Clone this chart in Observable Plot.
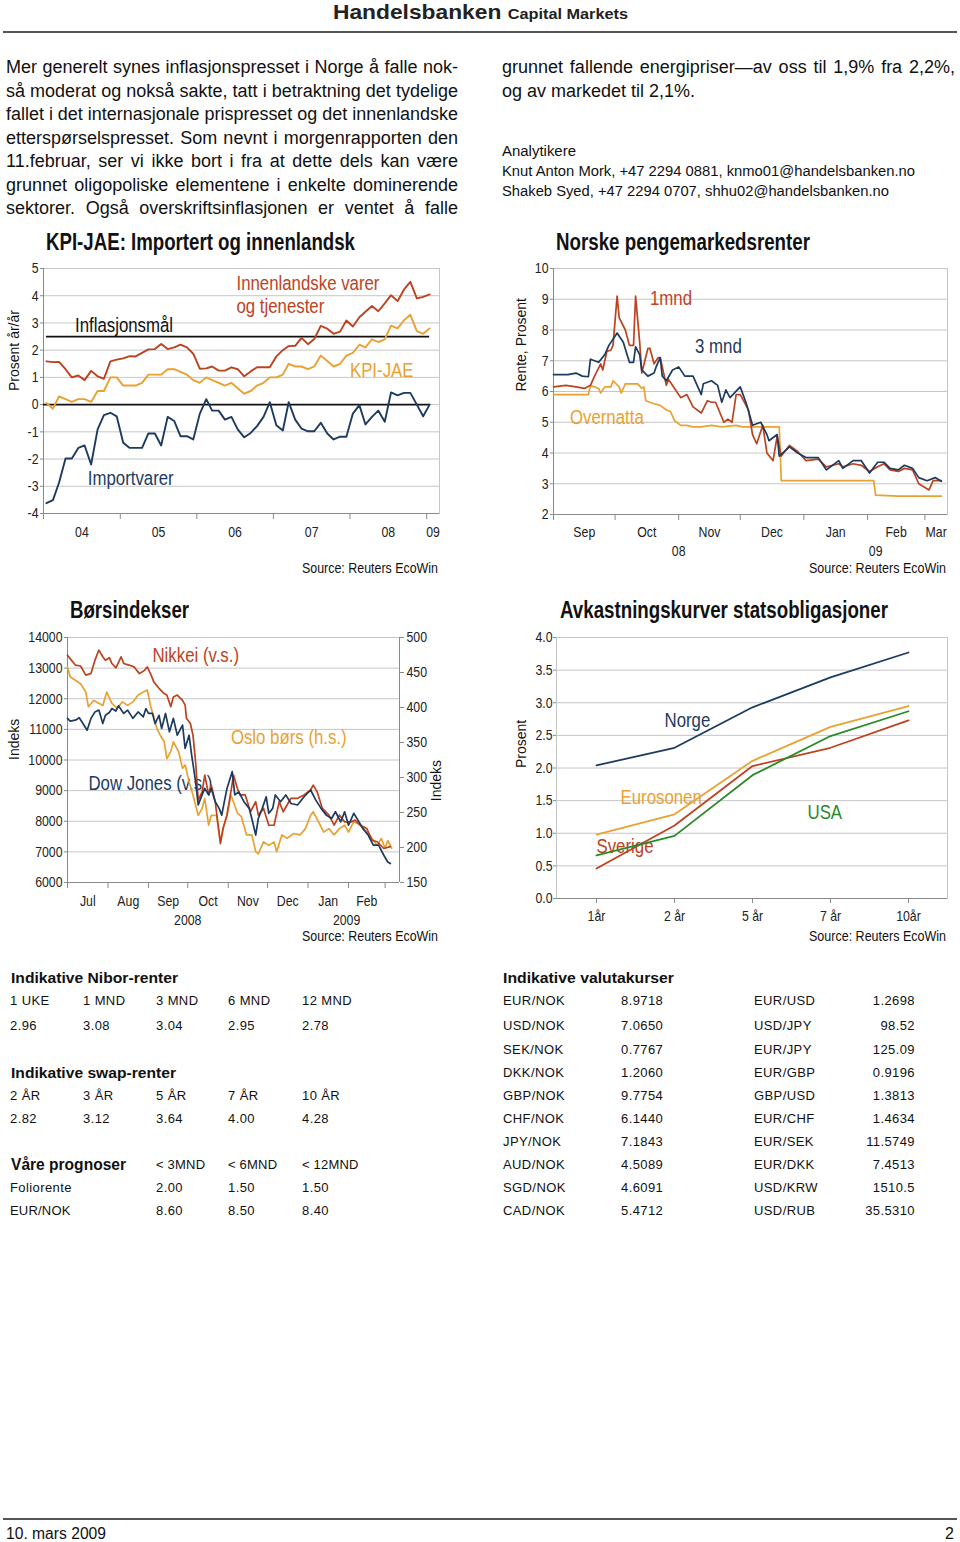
<!DOCTYPE html>
<html><head><meta charset="utf-8">
<script src="https://cdn.jsdelivr.net/npm/d3@7"></script>
<script src="https://cdn.jsdelivr.net/npm/@observablehq/plot@0.6"></script>
<style>
body{margin:0;background:#fff;}
#page{position:relative;width:960px;height:1542px;overflow:hidden;background:#fff;color:#111;font-family:"Liberation Sans",Arial,Helvetica,sans-serif;}
.t{position:absolute;white-space:nowrap;}
.rule{position:absolute;background:#555;}
svg{position:absolute;overflow:visible;}
</style>
</head><body><div id="page"></div>
<script>
// ---------------- DATA ----------------
// KPI-JAE (monthly, Jan 2004 - Jan 2009), % y/y
const kpiStartYear = 2004;
const innenlandske = [1.59,1.56,1.57,1.3,1.0,1.07,0.9,1.24,1.04,0.95,1.59,1.65,
 1.7,1.78,1.77,1.9,2.03,2.04,2.23,2.04,2.1,2.2,2.1,1.87,
 1.32,1.33,1.4,1.25,1.25,1.37,1.3,1.04,1.22,1.37,1.37,1.37,
 1.77,2.0,2.15,2.16,2.45,2.22,2.41,2.89,2.79,2.6,2.68,3.09,
 2.87,3.21,3.41,3.62,3.43,3.72,4.02,3.8,4.23,4.51,3.9,3.96,4.05];
const kpiJae = [0.06,-0.15,0.3,0.2,0.1,0.2,0.2,0.1,0.5,0.5,1.0,1.0,
 0.7,0.7,0.7,0.8,1.1,1.1,1.1,1.3,1.3,1.2,1.1,0.9,
 0.8,1.0,0.9,0.8,0.7,0.8,0.6,0.4,0.5,0.7,0.8,1.0,
 1.0,1.1,1.5,1.4,1.4,1.3,1.4,1.8,1.6,1.4,1.5,1.8,
 1.9,2.2,2.1,2.4,2.3,2.4,2.9,2.8,3.1,3.3,2.7,2.6,2.8];
const importvarer = [-3.62,-3.51,-2.87,-1.98,-1.98,-1.59,-1.5,-2.2,-0.91,-0.39,-0.3,-0.43,
 -1.4,-1.59,-1.59,-1.59,-1.06,-1.06,-1.5,-0.45,-0.6,-1.16,-1.16,-1.28,
 -0.34,0.2,-0.22,-0.22,-0.55,-0.45,-0.91,-1.2,-1.04,-0.79,-0.45,0.09,
 -0.76,-0.95,0.09,-0.55,-0.88,-0.98,-0.98,-0.67,-1.06,-1.28,-1.18,-1.18,
 -0.33,-0.02,-0.73,-0.45,-0.22,-0.63,0.45,0.34,0.43,0.43,0,-0.43,0];
const inflasjonsmaal = 2.5;
const kpiYears = [2004,2005,2006,2007,2008,2009];
const kpiYearLabels = ["04","05","06","07","08","09"];
const kpiYTicks = [-4,-3,-2,-1,0,1,2,3,4,5];

// Norske pengemarkedsrenter
const rate1m = [["2008-09-01",6.15],["2008-09-07",6.2],["2008-09-12",6.15],["2008-09-16",6.1],["2008-09-19",6.2],["2008-09-21",6.5],["2008-09-24",6.9],["2008-09-25",6.7],["2008-09-27",7.3],["2008-09-29",7.35],["2008-09-30",7.5],["2008-10-02",9.1],["2008-10-03",8.4],["2008-10-06",8.0],["2008-10-08",7.5],["2008-10-10",7.5],["2008-10-11",9.1],["2008-10-13",7.6],["2008-10-14",6.6],["2008-10-17",7.4],["2008-10-18",7.4],["2008-10-20",6.9],["2008-10-22",7.1],["2008-10-23",7.1],["2008-10-26",6.2],["2008-10-27",6.4],["2008-10-30",6.1],["2008-11-02",5.8],["2008-11-05",5.9],["2008-11-08",5.5],["2008-11-12",5.3],["2008-11-15",5.7],["2008-11-17",5.65],["2008-11-19",5.65],["2008-11-23",5.0],["2008-11-25",5.1],["2008-11-27",5.0],["2008-11-29",5.9],["2008-12-01",5.9],["2008-12-05",5.4],["2008-12-07",4.6],["2008-12-09",4.3],["2008-12-12",4.9],["2008-12-14",4.0],["2008-12-17",3.75],["2008-12-19",4.55],["2008-12-21",3.9],["2008-12-25",4.25],["2008-12-29",4.05],["2009-01-02",3.75],["2009-01-08",3.8],["2009-01-12",3.55],["2009-01-18",3.65],["2009-01-20",3.55],["2009-01-25",3.65],["2009-01-29",3.6],["2009-02-02",3.4],["2009-02-06",3.55],["2009-02-09",3.65],["2009-02-12",3.45],["2009-02-16",3.4],["2009-02-19",3.5],["2009-02-23",3.45],["2009-02-26",3.0],["2009-03-03",2.8],["2009-03-05",3.1],["2009-03-09",3.1]];
const rate3m = [["2008-09-01",6.55],["2008-09-08",6.55],["2008-09-12",6.6],["2008-09-15",6.5],["2008-09-18",6.48],["2008-09-19",7.05],["2008-09-23",6.95],["2008-09-26",7.2],["2008-09-28",7.5],["2008-10-02",7.9],["2008-10-05",7.6],["2008-10-08",6.95],["2008-10-10",6.95],["2008-10-11",7.45],["2008-10-13",7.2],["2008-10-14",6.7],["2008-10-17",6.5],["2008-10-20",6.6],["2008-10-21",6.8],["2008-10-23",7.1],["2008-10-24",6.5],["2008-10-26",6.35],["2008-10-29",6.7],["2008-11-01",6.8],["2008-11-04",6.5],["2008-11-08",6.5],["2008-11-12",5.9],["2008-11-13",6.25],["2008-11-17",6.35],["2008-11-20",6.2],["2008-11-22",5.65],["2008-11-24",6.05],["2008-11-26",5.8],["2008-12-01",6.15],["2008-12-04",5.6],["2008-12-07",4.9],["2008-12-11",5.0],["2008-12-14",4.6],["2008-12-15",4.4],["2008-12-19",4.6],["2008-12-20",3.9],["2008-12-25",4.2],["2008-12-29",4.0],["2009-01-02",3.85],["2009-01-08",3.85],["2009-01-12",3.45],["2009-01-18",3.75],["2009-01-20",3.5],["2009-01-25",3.75],["2009-01-29",3.75],["2009-02-02",3.35],["2009-02-06",3.7],["2009-02-09",3.7],["2009-02-12",3.5],["2009-02-16",3.45],["2009-02-19",3.6],["2009-02-23",3.5],["2009-02-26",3.2],["2009-03-02",3.1],["2009-03-06",3.2],["2009-03-09",3.08]];
const rateOvernight = [["2008-09-01",5.9],["2008-09-18",5.9],["2008-09-19",6.2],["2008-09-23",6.1],["2008-09-24",5.95],["2008-09-26",6.15],["2008-09-29",6.15],["2008-09-30",6.35],["2008-10-03",6.15],["2008-10-04",5.95],["2008-10-06",6.25],["2008-10-12",6.25],["2008-10-14",6.1],["2008-10-15",6.15],["2008-10-16",5.7],["2008-10-20",5.6],["2008-10-23",5.55],["2008-10-26",5.4],["2008-10-28",5.35],["2008-10-30",5.05],["2008-11-02",4.9],["2008-11-05",4.9],["2008-11-08",4.85],["2008-11-12",4.85],["2008-11-17",4.9],["2008-11-22",4.85],["2008-11-29",4.9],["2008-12-02",4.85],["2008-12-20",4.85],["2008-12-21",3.1],["2009-02-04",3.1],["2009-02-05",2.63],["2009-02-16",2.6],["2009-03-09",2.6]];
const rateMonthStarts = ["2008-09-01","2008-10-01","2008-11-01","2008-12-01","2009-01-01","2009-02-01","2009-03-01"];
const rateMonthNames = ["Sep","Oct","Nov","Dec","Jan","Feb","Mar"];
const rateYTicks = [2,3,4,5,6,7,8,9,10];

// Børsindekser
const nikkei = [["2008-07-01",13420],["2008-07-03",13310],["2008-07-07",13100],["2008-07-11",13070],["2008-07-15",12770],["2008-07-19",12830],["2008-07-22",13260],["2008-07-25",13590],["2008-07-28",13370],["2008-07-30",13260],["2008-08-02",13340],["2008-08-04",13150],["2008-08-07",13010],["2008-08-11",13370],["2008-08-13",13150],["2008-08-17",13100],["2008-08-21",13040],["2008-08-25",12820],["2008-08-29",12930],["2008-08-31",13040],["2008-09-03",12770],["2008-09-05",12550],["2008-09-09",12340],["2008-09-13",12170],["2008-09-15",12120],["2008-09-18",11740],["2008-09-20",12060],["2008-09-23",12120],["2008-09-27",11950],["2008-09-29",11790],["2008-09-30",11360],["2008-10-03",11190],["2008-10-05",10810],["2008-10-07",9940],["2008-10-09",8690],["2008-10-12",8960],["2008-10-14",9510],["2008-10-17",8860],["2008-10-19",9180],["2008-10-22",8640],["2008-10-26",7270],["2008-10-28",7760],["2008-10-31",8200],["2008-11-03",8960],["2008-11-05",9510],["2008-11-08",9070],["2008-11-10",8860],["2008-11-14",8860],["2008-11-18",8310],["2008-11-22",8640],["2008-11-24",8200],["2008-11-28",8420],["2008-12-02",7870],["2008-12-06",7870],["2008-12-10",8640],["2008-12-13",8310],["2008-12-19",8750],["2008-12-24",8750],["2008-12-29",8860],["2009-01-03",9020],["2009-01-05",9180],["2009-01-08",8960],["2009-01-12",8420],["2009-01-17",8200],["2009-01-21",7870],["2009-01-25",8200],["2009-01-29",7980],["2009-02-03",7980],["2009-02-06",8040],["2009-02-10",7870],["2009-02-15",7760],["2009-02-19",7380],["2009-02-23",7330],["2009-02-28",7110],["2009-03-05",7170]];
const dowJones = [["2008-07-01",11360],["2008-07-03",11270],["2008-07-07",11300],["2008-07-10",11380],["2008-07-12",11250],["2008-07-16",10970],["2008-07-19",11360],["2008-07-22",11570],["2008-07-25",11630],["2008-07-28",11190],["2008-07-30",11460],["2008-08-02",11550],["2008-08-04",11680],["2008-08-07",11600],["2008-08-09",11770],["2008-08-13",11520],["2008-08-16",11630],["2008-08-20",11360],["2008-08-24",11570],["2008-08-28",11410],["2008-08-30",11680],["2008-09-01",11520],["2008-09-04",11520],["2008-09-06",11190],["2008-09-09",11460],["2008-09-11",11030],["2008-09-14",11520],["2008-09-17",10920],["2008-09-20",11360],["2008-09-23",10810],["2008-09-27",11140],["2008-09-29",10380],["2008-10-02",10810],["2008-10-04",10160],["2008-10-07",9290],["2008-10-09",8530],["2008-10-12",8860],["2008-10-14",9070],["2008-10-17",8860],["2008-10-19",9070],["2008-10-22",8640],["2008-10-25",8420],["2008-10-27",8200],["2008-10-29",8640],["2008-10-31",9070],["2008-11-04",9620],["2008-11-06",8860],["2008-11-09",8960],["2008-11-13",8640],["2008-11-17",8420],["2008-11-19",8090],["2008-11-22",7550],["2008-11-24",8090],["2008-11-27",8420],["2008-11-30",8800],["2008-12-02",8260],["2008-12-05",8420],["2008-12-07",8860],["2008-12-11",8640],["2008-12-15",8860],["2008-12-19",8580],["2008-12-24",8530],["2008-12-29",8800],["2009-01-03",9020],["2009-01-07",8690],["2009-01-11",8420],["2009-01-15",8200],["2009-01-19",8090],["2009-01-22",8310],["2009-01-26",7980],["2009-01-29",8310],["2009-02-01",7870],["2009-02-05",8260],["2009-02-09",7980],["2009-02-12",7760],["2009-02-16",7550],["2009-02-20",7220],["2009-02-24",7220],["2009-02-28",6890],["2009-03-03",6670],["2009-03-05",6620]];
const osloBors = [["2008-07-01",458],["2008-07-03",444],["2008-07-07",439],["2008-07-11",434],["2008-07-15",422],["2008-07-17",401],["2008-07-21",410],["2008-07-25",406],["2008-07-28",403],["2008-07-31",422],["2008-08-04",406],["2008-08-08",399],["2008-08-12",408],["2008-08-16",403],["2008-08-20",408],["2008-08-24",418],["2008-08-28",422],["2008-08-31",425],["2008-09-03",399],["2008-09-05",387],["2008-09-07",372],["2008-09-10",360],["2008-09-13",351],["2008-09-15",327],["2008-09-18",337],["2008-09-20",351],["2008-09-24",337],["2008-09-27",313],["2008-09-29",318],["2008-10-02",294],["2008-10-05",275],["2008-10-09",246],["2008-10-12",256],["2008-10-14",270],["2008-10-17",232],["2008-10-19",246],["2008-10-23",246],["2008-10-26",208],["2008-10-28",227],["2008-10-31",246],["2008-11-03",275],["2008-11-05",265],["2008-11-08",249],["2008-11-11",244],["2008-11-15",218],["2008-11-19",218],["2008-11-22",194],["2008-11-24",191],["2008-11-28",208],["2008-12-02",203],["2008-12-06",208],["2008-12-08",194],["2008-12-12",218],["2008-12-16",213],["2008-12-21",220],["2008-12-26",218],["2008-12-30",227],["2009-01-03",246],["2009-01-05",251],["2009-01-09",237],["2009-01-13",222],["2009-01-17",227],["2009-01-21",218],["2009-01-25",227],["2009-01-29",232],["2009-02-01",222],["2009-02-05",237],["2009-02-10",232],["2009-02-15",222],["2009-02-19",213],["2009-02-23",203],["2009-02-26",213],["2009-03-01",199],["2009-03-03",210],["2009-03-06",199]];
const borsMonthStarts = ["2008-07-01","2008-08-01","2008-09-01","2008-10-01","2008-11-01","2008-12-01","2009-01-01","2009-02-01","2009-03-01"];
const borsMonthNames = ["Jul","Aug","Sep","Oct","Nov","Dec","Jan","Feb"];
const borsLeftTicks = [6000,7000,8000,9000,10000,11000,12000,13000,14000];
const borsRightTicks = [150,200,250,300,350,400,450,500];

// Avkastningskurver statsobligasjoner
const maturities = ["1år","2 år","5 år","7 år","10år"];
const yieldNorge = [2.04,2.31,2.93,3.39,3.77];
const yieldEurosonen = [0.98,1.29,2.11,2.63,2.95];
const yieldSverige = [0.46,1.12,2.03,2.31,2.73];
const yieldUSA = [0.66,0.96,1.89,2.49,2.87];
const yieldTicks = [0,0.5,1,1.5,2,2.5,3,3.5,4];

// Tables
const niborTenors = ["1 UKE","1 MND","3 MND","6 MND","12 MND"];
const niborRates = ["2.96","3.08","3.04","2.95","2.78"];
const swapTenors = ["2 ÅR","3 ÅR","5 ÅR","7 ÅR","10 ÅR"];
const swapRates = ["2.82","3.12","3.64","4.00","4.28"];
const forecastHorizons = ["< 3MND","< 6MND","< 12MND"];
const forecastFolio = ["2.00","1.50","1.50"];
const forecastEurNok = ["8.60","8.50","8.40"];
const fxPairsA = ["EUR/NOK","USD/NOK","SEK/NOK","DKK/NOK","GBP/NOK","CHF/NOK","JPY/NOK","AUD/NOK","SGD/NOK","CAD/NOK"];
const fxRatesA = ["8.9718","7.0650","0.7767","1.2060","9.7754","6.1440","7.1843","4.5089","4.6091","5.4712"];
const fxPairsB = ["EUR/USD","USD/JPY","EUR/JPY","EUR/GBP","GBP/USD","EUR/CHF","EUR/SEK","EUR/DKK","USD/KRW","USD/RUB"];
const fxRatesB = ["1.2698","98.52","125.09","0.9196","1.3813","1.4634","11.5749","7.4513","1510.5","35.5310"];

// ---------------- STYLE ----------------
const NAVY = "#1d3b60", RED = "#bd421f", ORANGE = "#e9a131", GREEN = "#2a8a2a";
const GRID = "#c6c6c6", AXIS = "#8a8a8a";
const FONT = '"Liberation Sans",Arial,Helvetica,sans-serif';
const NARROW_K = 0.82;                // Arial Narrow ≈ 82 % of Arial
const AXIS_TITLES = new Set(["Prosent år/år", "Rente, Prosent", "Indeks", "Prosent"]);
const page = document.getElementById("page");

function txt(str, x, y, o = {}) {
  const el = document.createElement("div");
  el.className = "t";
  el.textContent = str;
  const s = o.size || 14;
  const lh = o.lh || 1.3;
  el.style.fontSize = s + "px";
  el.style.lineHeight = (s * lh) + "px";
  el.style.top = (y - s * lh / 2) + "px";
  if (o.bold) el.style.fontWeight = "bold";
  if (o.color) el.style.color = o.color;
  if (o.ls) el.style.letterSpacing = o.ls;
  if (o.html) el.innerHTML = o.html;
  page.append(el);
  const natural = el.getBoundingClientRect().width;
  let k = 1;
  if (o.fit) k = o.fit / natural;
  if (o.width) {
    el.style.width = o.width + "px";
    if (natural > o.width) { k = o.width / natural; el.style.width = natural + "px"; }
    el.style.textAlign = "justify"; el.style.textAlignLast = "justify";
  }
  const w = (o.width || natural * k);
  let left = x;
  if (o.anchor === "end") left = x - w;
  else if (o.anchor === "middle") left = x - w / 2;
  el.style.left = left + "px";
  if (k !== 1) { el.style.transformOrigin = "0 50%"; el.style.transform = `scaleX(${k})`; }
  return el;
}
function rule(x, y, w, h) {
  const r = document.createElement("div");
  r.className = "rule";
  Object.assign(r.style, {left: x + "px", top: y + "px", width: w + "px", height: h + "px"});
  page.append(r);
}
// condense chart texts to the narrow look of the original (keeps axis titles regular)
function mount(svg, x, y) {
  svg.style.left = x + "px"; svg.style.top = y + "px"; page.append(svg);
  svg.querySelectorAll("text").forEach(t => {
    if (AXIS_TITLES.has(t.textContent)) return;
    const w = t.getComputedTextLength();
    if (w > 0) { t.setAttribute("textLength", (w * NARROW_K).toFixed(2)); t.setAttribute("lengthAdjust", "spacingAndGlyphs"); }
  });
}
const D = s => new Date(s + "T00:00:00Z");
const mid = (a, b) => new Date((+a + +b) / 2);
const baseStyle = {fontFamily: FONT, fontSize: "15px", color: "#222", background: "transparent"};
const note = (n, extra = {}) => Plot.text([n], {x: "x", y: "y", text: "label", fill: n.color, textAnchor: "start", fontSize: 20.5, ...extra});

// ---------------- HEADER / TEXT ----------------
txt("", 333, 12, {size: 21, bold: true, fit: 295, lh: 1.2, color: "#222",
  html: 'Handelsbanken <span style="font-size:15px">Capital Markets</span>'});
rule(3, 31, 954, 2);

const leftLines = [
 "Mer generelt synes inflasjonspresset i Norge å falle nok-",
 "så moderat og nokså sakte, tatt i betraktning det tydelige",
 "fallet i det internasjonale prispresset og det innenlandske",
 "etterspørselspresset. Som nevnt i morgenrapporten den",
 "11.februar, ser vi ikke bort i fra at dette dels kan være",
 "grunnet oligopoliske elementene i enkelte dominerende",
 "sektorer. Også overskriftsinflasjonen er ventet å falle"];
leftLines.forEach((l, i) => txt(l, 6, 68 + i * 23.5, {size: 18, width: 452}));
txt("grunnet fallende energipriser—av oss til 1,9% fra 2,2%,", 502, 68, {size: 18, width: 453});
txt("og av markedet til 2,1%.", 502, 91.5, {size: 18});
txt("Analytikere", 502, 151, {size: 14, fit: 74});
txt("Knut Anton Mork, +47 2294 0881, knmo01@handelsbanken.no", 502, 171, {size: 14, fit: 413});
txt("Shakeb Syed, +47 2294 0707, shhu02@handelsbanken.no", 502, 191, {size: 14, fit: 387});

// ---------------- CHART 1: KPI-JAE ----------------
const kpiDates = innenlandske.map((_, i) => new Date(Date.UTC(kpiStartYear, i, 15)));
const kpiDomain = [D("2004-01-01"), D("2009-03-03")];
const kpiYearStarts = kpiYears.map(y => new Date(Date.UTC(y, 0, 1)));
const kpiLabelPos = kpiYearStarts.map(d => mid(d, d3.min([new Date(Date.UTC(d.getUTCFullYear() + 1, 0, 1)), kpiDomain[1]])));
const kpiLabelMap = new Map(kpiLabelPos.map((d, i) => [+d, kpiYearLabels[i]]));
const last = kpiDates[kpiDates.length - 1];
const kpiNotes = [
  {label: "Innenlandske varer", x: D("2006-07-09"), y: 4.45, color: RED},
  {label: "og tjenester", x: D("2006-07-09"), y: 3.6, color: RED},
  {label: "Inflasjonsmål", x: D("2004-05-30"), y: 2.9, color: "#111"},
  {label: "KPI-JAE", x: D("2008-01-01"), y: 1.25, color: ORANGE},
  {label: "Importvarer", x: D("2004-07-30"), y: -2.72, color: NAVY}];

const c1 = Plot.plot({
  width: 450, height: 300, marginLeft: 43, marginRight: 11, marginTop: 18, marginBottom: 37,
  style: baseStyle,
  x: {type: "utc", domain: kpiDomain},
  y: {domain: [-4, 5]},
  marks: [
    Plot.gridY(kpiYTicks, {stroke: GRID, strokeOpacity: 1}),
    Plot.frame({stroke: GRID}),
    Plot.ruleX([kpiDomain[0]], {stroke: AXIS}),
    Plot.ruleY([-4], {stroke: AXIS}),
    Plot.axisY(kpiYTicks, {tickSize: 3, tickPadding: 2, stroke: AXIS, label: null, tickFormat: d => String(d)}),
    Plot.axisX(kpiYearStarts, {tickSize: 6, stroke: AXIS, tickFormat: () => "", label: null}),
    Plot.axisX(kpiLabelPos, {tickSize: 0, tickPadding: 13, tickFormat: d => kpiLabelMap.get(+d), label: null}),
    Plot.text(["Prosent år/år"], {frameAnchor: "left", rotate: -90, dx: -29, fontSize: 14, fill: "#111"}),
    Plot.ruleY([inflasjonsmaal], {x1: () => kpiDates[0], x2: () => last, stroke: "#111", strokeWidth: 1.7}),
    Plot.ruleY([0], {x1: () => kpiDomain[0], x2: () => last, stroke: "#111", strokeWidth: 1.7}),
    Plot.line(innenlandske, {x: (d, i) => kpiDates[i], y: d => d, stroke: RED, strokeWidth: 1.9}),
    Plot.line(kpiJae, {x: (d, i) => kpiDates[i], y: d => d, stroke: ORANGE, strokeWidth: 1.9}),
    Plot.line(importvarer, {x: (d, i) => kpiDates[i], y: d => d, stroke: NAVY, strokeWidth: 1.9}),
    ...kpiNotes.map(n => note(n))
  ]
});
mount(c1, 0, 250);
txt("KPI-JAE: Importert og innenlandsk", 46, 243, {size: 23, bold: true, fit: 309});
txt("Source: Reuters EcoWin", 438, 568, {size: 15, fit: 136, anchor: "end"});

// ---------------- CHART 2: Pengemarkedsrenter ----------------
const rateDomain = [D("2008-09-01"), D("2009-03-12")];
const rm = rateMonthStarts.map(D);
const rateMonthPos = rm.map((d, i) => mid(d, i + 1 < rm.length ? rm[i + 1] : rateDomain[1]));
const rateMonthMap = new Map(rateMonthPos.map((d, i) => [+d, rateMonthNames[i]]));
const rateYearPos = [mid(rateDomain[0], D("2009-01-01")), mid(D("2009-01-01"), rateDomain[1])];
const rateYearMap = new Map(rateYearPos.map((d, i) => [+d, ["08", "09"][i]]));
const rateNotes = [
  {label: "1mnd", x: D("2008-10-18"), y: 9.02, color: RED},
  {label: "3 mnd", x: D("2008-11-09"), y: 7.46, color: NAVY},
  {label: "Overnatta", x: D("2008-09-09"), y: 5.15, color: ORANGE}];
const c2 = Plot.plot({
  width: 460, height: 330, marginLeft: 53, marginRight: 13, marginTop: 18, marginBottom: 66,
  style: baseStyle,
  x: {type: "utc", domain: rateDomain},
  y: {domain: [2, 10]},
  marks: [
    Plot.gridY(rateYTicks, {stroke: GRID, strokeOpacity: 1}),
    Plot.frame({stroke: GRID}),
    Plot.ruleX([rateDomain[0]], {stroke: AXIS}),
    Plot.ruleY([2], {stroke: AXIS}),
    Plot.axisY(rateYTicks, {tickSize: 3, tickPadding: 2, stroke: AXIS, label: null, tickFormat: d => String(d)}),
    Plot.axisX(rm, {tickSize: 6, stroke: AXIS, tickFormat: () => "", label: null}),
    Plot.axisX(rateMonthPos, {tickSize: 0, tickPadding: 12, tickFormat: d => rateMonthMap.get(+d), label: null}),
    Plot.axisX(rateYearPos, {tickSize: 0, tickPadding: 31, tickFormat: d => rateYearMap.get(+d), label: null}),
    Plot.text(["Rente, Prosent"], {frameAnchor: "left", rotate: -90, dx: -32, fontSize: 14, fill: "#111"}),
    Plot.line(rateOvernight, {x: d => D(d[0]), y: d => d[1], stroke: ORANGE, strokeWidth: 1.7}),
    Plot.line(rate1m, {x: d => D(d[0]), y: d => d[1], stroke: RED, strokeWidth: 1.7}),
    Plot.line(rate3m, {x: d => D(d[0]), y: d => d[1], stroke: NAVY, strokeWidth: 1.7}),
    ...rateNotes.map(n => note(n))
  ]
});
mount(c2, 500, 250);
txt("Norske pengemarkedsrenter", 556, 243, {size: 23, bold: true, fit: 254});
txt("Source: Reuters EcoWin", 946, 568, {size: 15, fit: 137, anchor: "end"});

// ---------------- CHART 3: Børsindekser ----------------
const borsDomain = [D("2008-07-01"), D("2009-03-12")];
const toLeft = r => 6000 + (r - 150) * 8000 / 350;       // right axis (h.s.) -> left scale
const fromLeft = v => Math.round(150 + (v - 6000) * 350 / 8000);
const bm = borsMonthStarts.map(D);
const borsMonthPos = borsMonthNames.map((_, i) => mid(bm[i], bm[i + 1]));
const borsMonthMap = new Map(borsMonthPos.map((d, i) => [+d, borsMonthNames[i]]));
const borsYearPos = [mid(bm[0], D("2009-01-01")), mid(D("2009-01-01"), D("2009-03-01"))];
const borsYearMap = new Map(borsYearPos.map((d, i) => [+d, ["2008", "2009"][i]]));
const borsNotes = [
  {label: "Nikkei (v.s.)", x: D("2008-09-04"), y: 13412, color: RED},
  {label: "Oslo børs (h.s.)", x: D("2008-11-03"), y: 10735, color: ORANGE},
  {label: "Dow Jones (v.s.)", x: D("2008-07-17"), y: 9233, color: NAVY}];
const c3 = Plot.plot({
  width: 450, height: 320, marginLeft: 67, marginRight: 51, marginTop: 17, marginBottom: 58,
  style: baseStyle,
  x: {type: "utc", domain: borsDomain},
  y: {domain: [6000, 14000]},
  marks: [
    Plot.gridY(borsLeftTicks, {stroke: GRID, strokeOpacity: 1}),
    Plot.ruleX([borsDomain[0], borsDomain[1]], {stroke: AXIS}),
    Plot.ruleY([6000], {stroke: AXIS}),
    Plot.axisY(borsLeftTicks, {tickSize: 3, tickPadding: 2, stroke: AXIS, label: null, tickFormat: d => String(d)}),
    Plot.axisY(borsRightTicks.map(toLeft), {anchor: "right", tickSize: 4, tickPadding: 3, stroke: AXIS, label: null, tickFormat: d => String(fromLeft(d))}),
    Plot.axisX(bm, {tickSize: 6, stroke: AXIS, tickFormat: () => "", label: null}),
    Plot.axisX(borsMonthPos, {tickSize: 0, tickPadding: 13, tickFormat: d => borsMonthMap.get(+d), label: null}),
    Plot.axisX(borsYearPos, {tickSize: 0, tickPadding: 32, tickFormat: d => borsYearMap.get(+d), label: null}),
    Plot.text(["Indeks"], {frameAnchor: "left", rotate: -90, dx: -53, fontSize: 14, fill: "#111"}),
    Plot.text(["Indeks"], {frameAnchor: "right", rotate: -90, dx: 37, fontSize: 14, fill: "#111"}),
    ...borsNotes.map(n => note(n)),
    Plot.line(osloBors, {x: d => D(d[0]), y: d => toLeft(d[1]), stroke: ORANGE, strokeWidth: 1.7}),
    Plot.line(nikkei, {x: d => D(d[0]), y: d => d[1], stroke: RED, strokeWidth: 1.7}),
    Plot.line(dowJones, {x: d => D(d[0]), y: d => d[1], stroke: NAVY, strokeWidth: 1.7})
  ]
});
mount(c3, 0, 620);
txt("Børsindekser", 70, 611, {size: 23, bold: true, fit: 119});
txt("Source: Reuters EcoWin", 438, 936, {size: 15, fit: 136, anchor: "end"});

// ---------------- CHART 4: Avkastningskurver ----------------
const yieldSeries = [
  {values: yieldNorge, color: NAVY},
  {values: yieldEurosonen, color: ORANGE},
  {values: yieldSverige, color: RED},
  {values: yieldUSA, color: GREEN}];
const yieldNotes = [
  {label: "Norge", x: "2 år", y: 2.73, dx: -10, color: NAVY},
  {label: "Eurosonen", x: "1år", y: 1.55, dx: 24, color: ORANGE},
  {label: "Sverige", x: "1år", y: 0.8, dx: 0, color: RED},
  {label: "USA", x: "5 år", y: 1.32, dx: 55, color: GREEN}];
const c4 = Plot.plot({
  width: 460, height: 320, marginLeft: 56, marginRight: 13, marginTop: 17, marginBottom: 42,
  style: baseStyle,
  x: {type: "point", domain: maturities, padding: 0.5},
  y: {domain: [0, 4]},
  marks: [
    Plot.gridY(yieldTicks, {stroke: GRID, strokeOpacity: 1}),
    Plot.frame({stroke: GRID}),
    Plot.ruleY([0], {stroke: AXIS}),
    Plot.axisY(yieldTicks, {tickSize: 3, tickPadding: 1, stroke: AXIS, label: null, tickFormat: d3.format(".1f")}),
    Plot.axisX(maturities, {tickSize: 5, tickPadding: 7, stroke: AXIS, label: null}),
    Plot.text(["Prosent"], {frameAnchor: "left", rotate: -90, dx: -35, fontSize: 14, fill: "#111"}),
    ...yieldNotes.map(n => note(n, {dx: n.dx})),
    ...yieldSeries.map(s => Plot.line(s.values, {x: (d, i) => maturities[i], y: d => d, stroke: s.color, strokeWidth: 1.8}))
  ]
});
mount(c4, 500, 620);
txt("Avkastningskurver statsobligasjoner", 560, 611, {size: 23, bold: true, fit: 328});
txt("Source: Reuters EcoWin", 946, 936, {size: 15, fit: 137, anchor: "end"});

// ---------------- TABLES ----------------
const colX = [10, 83, 156, 228, 302];
const cell = {size: 13, ls: "0.4px"};
txt("Indikative Nibor-renter", 11, 978, {size: 15.5, bold: true, fit: 167});
niborTenors.forEach((t, i) => txt(t, colX[i], 1001, cell));
niborRates.forEach((t, i) => txt(t, colX[i], 1026, cell));
txt("Indikative swap-renter", 11, 1073, {size: 15.5, bold: true, fit: 165});
swapTenors.forEach((t, i) => txt(t, colX[i], 1096, cell));
swapRates.forEach((t, i) => txt(t, colX[i], 1119, cell));
txt("Våre prognoser", 11, 1165, {size: 16, bold: true, fit: 115});
forecastHorizons.forEach((t, i) => txt(t, colX[i + 2], 1165, {size: 13, ls: "0.2px"}));
txt("Foliorente", 10, 1188, cell);
forecastFolio.forEach((t, i) => txt(t, colX[i + 2], 1188, cell));
txt("EUR/NOK", 10, 1211, {size: 13, ls: "0.2px"});
forecastEurNok.forEach((t, i) => txt(t, colX[i + 2], 1211, cell));

txt("Indikative valutakurser", 503, 978, {size: 15.5, bold: true, fit: 171});
const fxY = [1001, 1026, 1050, 1073, 1096, 1119, 1142, 1165, 1188, 1211];
fxPairsA.forEach((t, i) => txt(t, 503, fxY[i], cell));
fxRatesA.forEach((t, i) => txt(t, 621, fxY[i], cell));
fxPairsB.forEach((t, i) => txt(t, 754, fxY[i], cell));
fxRatesB.forEach((t, i) => txt(t, 915, fxY[i], {...cell, anchor: "end"}));

// ---------------- FOOTER ----------------
rule(3, 1518, 954, 2);
txt("10. mars 2009", 6, 1534, {size: 16, fit: 100, lh: 1});
txt("2", 954, 1534, {size: 16, lh: 1, anchor: "end"});
</script>
</body></html>
